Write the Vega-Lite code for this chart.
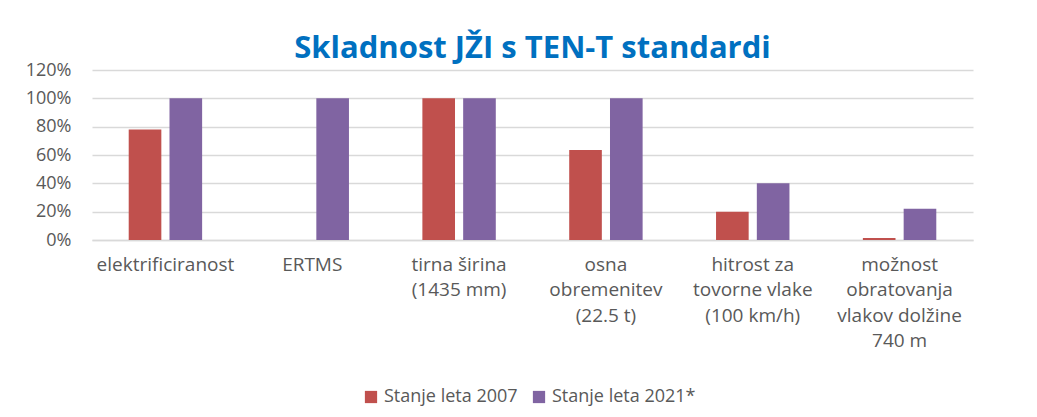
{
  "$schema": "https://vega.github.io/schema/vega-lite/v6.json",
  "width": 881,
  "height": 170,
  "autosize": {"type": "none"},
  "padding": {"left": 92, "top": 70, "right": 64, "bottom": 177},
  "background": "white",
  "title": {
    "text": "Skladnost JŽI s TEN-T standardi",
    "font": "Open Sans",
    "fontSize": 31,
    "fontWeight": "bold",
    "color": "#0070C0",
    "anchor": "middle",
    "offset": -4
  },
  "data": {
    "values": [
      {"cat": "elektrificiranost", "series": "Stanje leta 2007", "value": 0.78},
      {"cat": "elektrificiranost", "series": "Stanje leta 2021*", "value": 1.0},
      {"cat": "ERTMS", "series": "Stanje leta 2007", "value": 0.0},
      {"cat": "ERTMS", "series": "Stanje leta 2021*", "value": 1.0},
      {"cat": "tirna širina|(1435 mm)", "series": "Stanje leta 2007", "value": 1.0},
      {"cat": "tirna širina|(1435 mm)", "series": "Stanje leta 2021*", "value": 1.0},
      {"cat": "osna|obremenitev|(22.5 t)", "series": "Stanje leta 2007", "value": 0.635},
      {"cat": "osna|obremenitev|(22.5 t)", "series": "Stanje leta 2021*", "value": 1.0},
      {"cat": "hitrost za|tovorne vlake|(100 km/h)", "series": "Stanje leta 2007", "value": 0.2},
      {"cat": "hitrost za|tovorne vlake|(100 km/h)", "series": "Stanje leta 2021*", "value": 0.4},
      {"cat": "možnost|obratovanja|vlakov dolžine|740 m", "series": "Stanje leta 2007", "value": 0.015},
      {"cat": "možnost|obratovanja|vlakov dolžine|740 m", "series": "Stanje leta 2021*", "value": 0.22}
    ]
  },
  "mark": {"type": "bar"},
  "encoding": {
    "x": {
      "field": "cat",
      "type": "nominal",
      "sort": null,
      "title": null,
      "scale": {"paddingInner": 0.5, "paddingOuter": 0.25},
      "axis": {
        "labelExpr": "split(datum.label, '|')",
        "labelAngle": 0,
        "labelFont": "Open Sans",
        "labelFontSize": 19,
        "labelColor": "#595959",
        "labelLineHeight": 25.5,
        "labelPadding": 15,
        "labelBaseline": "top",
        "ticks": false,
        "domainColor": "#D9D9D9",
        "domainWidth": 1.5,
        "labelLimit": 250
      }
    },
    "xOffset": {
      "field": "series",
      "type": "nominal",
      "scale": {"paddingInner": 0.2}
    },
    "y": {
      "field": "value",
      "type": "quantitative",
      "title": null,
      "scale": {"domain": [0, 1.2]},
      "axis": {
        "values": [0, 0.2, 0.4, 0.6, 0.8, 1.0, 1.2],
        "format": ".0%",
        "labelFont": "Open Sans",
        "labelFontSize": 18,
        "labelColor": "#595959",
        "labelPadding": 21,
        "ticks": false,
        "domain": false,
        "gridColor": "#D9D9D9",
        "gridWidth": 1.5
      }
    },
    "color": {
      "field": "series",
      "type": "nominal",
      "title": null,
      "scale": {"domain": ["Stanje leta 2007", "Stanje leta 2021*"], "range": ["#C0504D", "#8064A2"]},
      "legend": {
        "orient": "none",
        "direction": "horizontal",
        "legendX": 270,
        "legendY": 318,
        "symbolType": "square",
        "symbolSize": 150,
        "symbolStrokeWidth": 0,
        "labelFont": "Open Sans",
        "labelFontSize": 18,
        "labelColor": "#595959",
        "columnPadding": 12,
        "labelOffset": 4
      }
    }
  },
  "config": {"view": {"stroke": null}}
}
